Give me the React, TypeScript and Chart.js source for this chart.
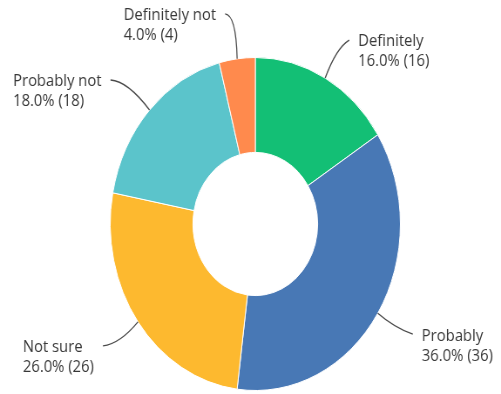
import React, { useEffect, useRef } from 'react';
import { Chart, registerables } from 'chart.js';

Chart.register(...registerables);

// ---- data ----
const categories: string[] = ['Definitely', 'Probably', 'Not sure', 'Probably not', 'Definitely not'];
const counts: number[] = [16, 36, 26, 18, 4];
const colors: string[] = ['#13BF75', '#4878B5', '#FDB92F', '#5BC4CB', '#FF8A4D'];

// ---- layout (horizontal squeeze of the original picture) ----
const SX = 0.8713;
const H = 394;
const W = Math.round(501 / SX);

// leader-line end / control offsets from the slice's outer mid-point (picture pixels)
const labelLayout = [
  { end: [24, -38], ctrl: [11, -30], side: 'right' },
  { end: [35, 21], ctrl: [16, 14], side: 'right' },
  { end: [-35, 24], ctrl: [-18, 22], side: 'left' },
  { end: [-39, -30], ctrl: [-22, -29], side: 'left' },
  { end: [-12, -45], ctrl: [-1, -44], side: 'left' },
];

const FONT = '17px "Open Sans", sans-serif';

const labelPlugin = {
  id: 'outerLabels',
  afterDatasetsDraw(chart: any) {
    const ctx = chart.ctx;
    const meta = chart.getDatasetMeta(0);
    const total = counts.reduce((a, b) => a + b, 0);
    ctx.save();
    meta.data.forEach((arc: any, i: number) => {
      const p = arc.getProps(['x', 'y', 'startAngle', 'endAngle', 'outerRadius'], true);
      const mid = (p.startAngle + p.endAngle) / 2;
      const ax = p.x + Math.cos(mid) * p.outerRadius;
      const ay = p.y + Math.sin(mid) * p.outerRadius;
      const L = labelLayout[i];
      const ex = ax + L.end[0] / SX;
      const ey = ay + L.end[1];
      const cx = ax + L.ctrl[0] / SX;
      const cy = ay + L.ctrl[1];
      ctx.beginPath();
      ctx.strokeStyle = '#4a4a4a';
      ctx.lineWidth = 1.3;
      ctx.moveTo(ax, ay);
      ctx.quadraticCurveTo(cx, cy, ex, ey);
      ctx.stroke();

      const lines = [categories[i], `${((counts[i] / total) * 100).toFixed(1)}% (${counts[i]})`];
      ctx.font = FONT;
      ctx.fillStyle = '#383838';
      ctx.textBaseline = 'middle';
      ctx.textAlign = 'left';
      const gap = 9 / SX;
      let tx: number;
      if (L.side === 'right') {
        tx = ex + gap;
      } else {
        const maxW = Math.max(...lines.map((t) => ctx.measureText(t).width));
        tx = ex - gap - maxW;
      }
      const y1 = ey + 1.5;
      lines.forEach((t, k) => ctx.fillText(t, tx, y1 + k * 20));
    });
    ctx.restore();
  },
};

export default function App() {
  const ref = useRef<HTMLCanvasElement | null>(null);

  useEffect(() => {
    document.body.style.margin = '0';
    const canvas = ref.current;
    if (!canvas) return;
    const chart = new Chart(canvas, {
      type: 'doughnut',
      data: {
        labels: categories,
        datasets: [
          {
            data: counts,
            backgroundColor: colors,
            borderColor: '#ffffff',
            borderWidth: 1,
            hoverOffset: 0,
            offset: 0,
          },
        ],
      },
      options: {
        responsive: false,
        animation: false,
        devicePixelRatio: 1,
        cutout: '43%',
        layout: { padding: { top: 57, bottom: 3, left: 11, right: 0 } },
        plugins: {
          legend: { display: false },
          tooltip: { enabled: false },
        },
      },
      plugins: [labelPlugin],
    });
    return () => chart.destroy();
  }, []);

  return (
    <div
      style={{
        position: 'fixed',
        left: 0,
        top: 0,
        width: 501,
        height: H,
        overflow: 'hidden',
        background: '#ffffff',
      }}
    >
      <canvas
        ref={ref}
        width={W}
        height={H}
        style={{
          width: `${W}px`,
          height: `${H}px`,
          display: 'block',
          transform: `scaleX(${SX})`,
          transformOrigin: '0 0',
        }}
      />
    </div>
  );
}
